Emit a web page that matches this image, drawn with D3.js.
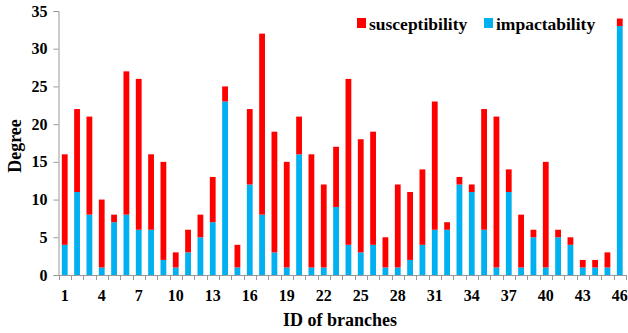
<!DOCTYPE html>
<html><head><meta charset="utf-8">
<script src="https://cdn.jsdelivr.net/npm/d3@7"></script>
<style>body{margin:0;background:#fff}svg{display:block}</style>
</head><body>
<svg id="c" width="628" height="333"></svg>
<script>
const branches = d3.range(1, 47);
const impactability = [4,11,8,1,7,8,6,6,2,1,3,5,7,23,1,12,8,3,1,16,1,1,9,4,3,4,1,1,2,4,6,6,12,11,6,1,11,1,5,1,5,4,1,1,1,33];
const totals = [16,22,21,10,8,27,26,16,15,3,6,8,13,25,4,22,32,19,15,21,16,12,17,26,18,19,5,12,11,14,23,7,13,12,22,21,14,8,6,15,6,5,2,2,3,34];
const susceptibility = totals.map((t,i)=>t-impactability[i]);
const yTicks = [0,5,10,15,20,25,30,35];
const xTickLabels = [1,4,7,10,13,16,19,22,25,28,31,34,37,40,43,46];

(function(){
const svg = d3.select("#c");
const font = "'Liberation Serif','Times New Roman',serif";
const mLeft = 58.5, mRight = 626, mTop = 11, mBottom = 275;
const x = d3.scaleBand().domain(branches).range([mLeft, mRight]).paddingInner(0.53).paddingOuter(0.27);
const y = d3.scaleLinear().domain([0,35]).range([mBottom, mTop]);

const data = branches.map((b,i)=>({b, imp: impactability[i], sus: susceptibility[i]}));
const g = svg.append("g");
g.selectAll("rect.imp").data(data).join("rect").attr("class","imp")
  .attr("x", d=>x(d.b)).attr("width", x.bandwidth())
  .attr("y", d=>y(d.imp)).attr("height", d=>y(0)-y(d.imp)).attr("fill", "#00B0F0");
g.selectAll("rect.sus").data(data).join("rect").attr("class","sus")
  .attr("x", d=>x(d.b)).attr("width", x.bandwidth())
  .attr("y", d=>y(d.imp+d.sus)).attr("height", d=>y(d.imp)-y(d.imp+d.sus)).attr("fill", "#FF0000");

// y axis
const ya = svg.append("g").attr("transform", `translate(${mLeft},0)`)
  .call(d3.axisLeft(y).tickValues(yTicks).tickSize(5).tickPadding(6));
ya.select(".domain").attr("stroke", "#999");
ya.selectAll(".tick line").attr("stroke", "#999");
ya.selectAll("text").attr("font-family", font).attr("font-weight", "bold").attr("font-size", 16).attr("fill", "#000");

// x axis: line and ticks at band boundaries
const step = x.step();
const xa = svg.append("g");
xa.append("line").attr("x1", mLeft).attr("x2", mRight).attr("y1", mBottom+0.5).attr("y2", mBottom+0.5).attr("stroke", "#999");
const firstEdge = x(branches[0]) + x.bandwidth()/2 - step/2;
xa.selectAll("line.t").data(d3.range(0, branches.length+1)).join("line").attr("class","t")
  .attr("x1", i=>Math.round(firstEdge + i*step)+0.5).attr("x2", i=>Math.round(firstEdge + i*step)+0.5)
  .attr("y1", mBottom).attr("y2", mBottom+5).attr("stroke", "#999");
xa.selectAll("text").data(xTickLabels).join("text")
  .attr("x", d=>x(d)+x.bandwidth()/2).attr("y", 301)
  .attr("text-anchor", "middle").attr("font-family", font).attr("font-weight", "bold").attr("font-size", 16).text(d=>d);

// axis titles
svg.append("text").attr("x", 340).attr("y", 326).attr("text-anchor", "middle")
  .attr("font-family", font).attr("font-weight", "bold").attr("font-size", 18).text("ID of branches");
svg.append("text").attr("transform", "translate(21,146) rotate(-90)").attr("text-anchor", "middle")
  .attr("font-family", font).attr("font-weight", "bold").attr("font-size", 18).text("Degree");

// legend
const legend = [{name:"susceptibility", color:"#FF0000", x:357},{name:"impactability", color:"#00B0F0", x:484}];
const lg = svg.selectAll("g.lg").data(legend).join("g").attr("class","lg").attr("transform", d=>`translate(${d.x},18)`);
lg.append("rect").attr("width", 9).attr("height", 10).attr("fill", d=>d.color);
lg.append("text").attr("x", 12).attr("y", 11.5).attr("font-family", font).attr("font-weight", "bold").attr("font-size", 17.5).text(d=>d.name);
})();
</script>
</body></html>
